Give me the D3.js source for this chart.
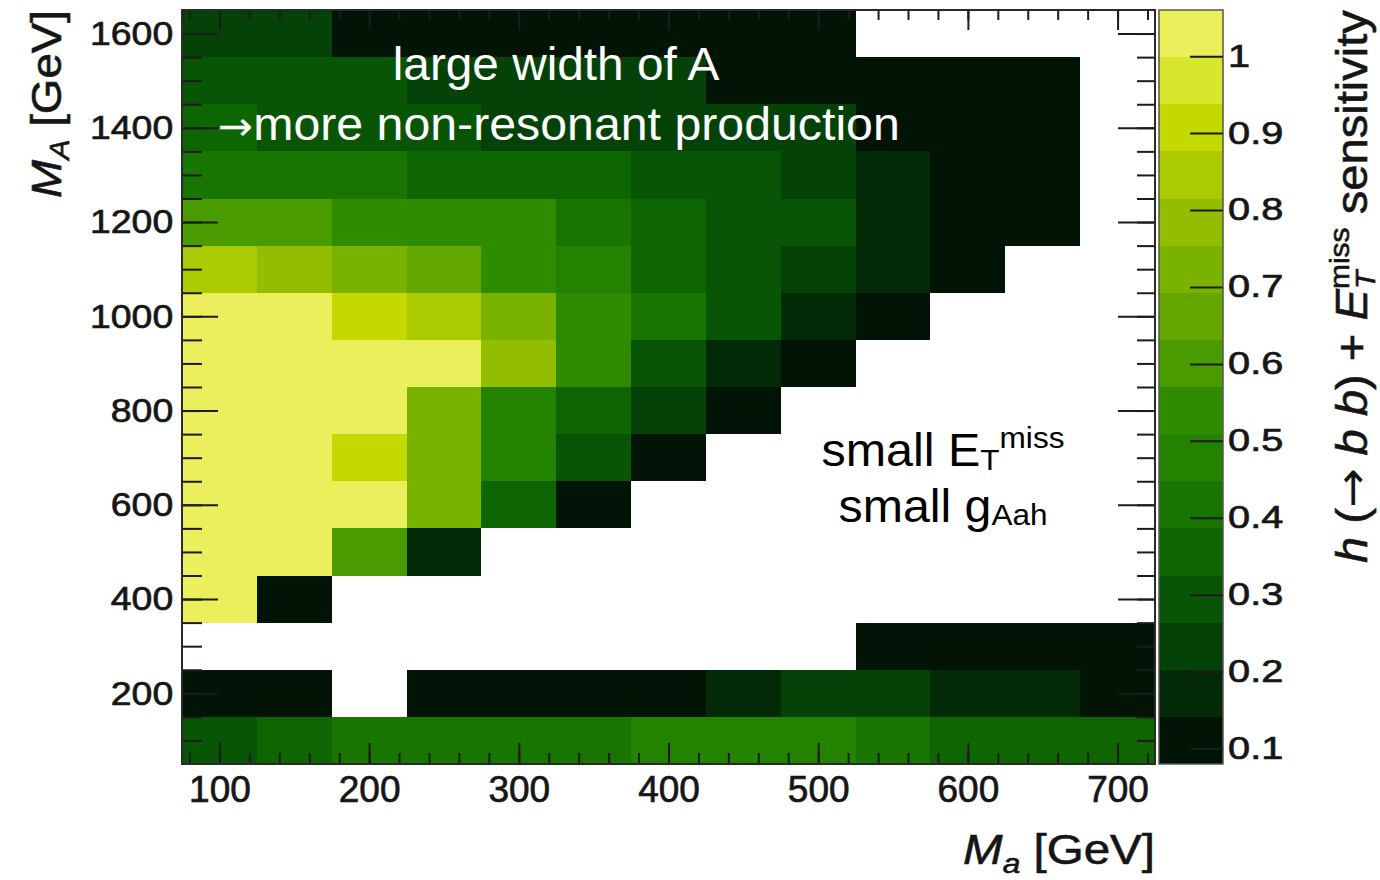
<!DOCTYPE html>
<html>
<head>
<meta charset="utf-8">
<script src="https://cdn.jsdelivr.net/npm/d3@7"></script>
<style>
  html, body { margin: 0; padding: 0; background: #fff; }
  svg { display: block; font-family: "Liberation Sans", Arial, Helvetica, sans-serif; }
</style>
</head>
<body>
<script>
// bin centres on the two mass axes
const maBins = [100, 150, 200, 250, 300, 350, 400, 450, 500, 550, 600, 650, 700];
const mABins = [1600, 1500, 1400, 1300, 1200, 1100, 1000, 900, 800, 700, 600, 500, 400, 300, 200, 100];

// sensitivity per row (same order as mABins), null = empty bin
const sensitivity = [
  [0.23, 0.23, 0.11, 0.10, 0.10, 0.10, 0.10, 0.09, 0.10, null, null, null, null],
  [0.29, 0.29, 0.28, 0.23, 0.23, 0.22, 0.22, 0.12, 0.11, 0.10, 0.10, 0.09, null],
  [0.35, 0.30, 0.29, 0.28, 0.24, 0.23, 0.22, 0.22, 0.21, 0.12, 0.11, 0.11, null],
  [0.42, 0.42, 0.41, 0.37, 0.36, 0.33, 0.30, 0.29, 0.23, 0.17, 0.12, 0.11, null],
  [0.61, 0.60, 0.55, 0.54, 0.52, 0.44, 0.36, 0.29, 0.28, 0.17, 0.11, 0.10, null],
  [0.85, 0.79, 0.73, 0.67, 0.55, 0.47, 0.36, 0.30, 0.25, 0.17, 0.12, null, null],
  [1.04, 1.03, 0.91, 0.85, 0.73, 0.55, 0.43, 0.30, 0.18, 0.11, null, null, null],
  [1.05, 1.04, 1.03, 1.01, 0.79, 0.55, 0.30, 0.17, 0.11, null, null, null, null],
  [1.05, 1.04, 1.02, 0.72, 0.49, 0.36, 0.24, 0.11, null, null, null, null, null],
  [1.05, 1.04, 0.91, 0.73, 0.49, 0.31, 0.11, null, null, null, null, null, null],
  [1.05, 1.05, 1.03, 0.72, 0.36, 0.10, null, null, null, null, null, null, null],
  [1.04, 1.03, 0.60, 0.17, null, null, null, null, null, null, null, null, null],
  [1.02, 0.11, null, null, null, null, null, null, null, null, null, null, null],
  [null, null, null, null, null, null, null, null, null, 0.11, 0.10, 0.10, 0.11],
  [0.11, 0.10, null, 0.10, 0.10, 0.11, 0.11, 0.17, 0.23, 0.24, 0.18, 0.17, 0.12],
  [0.29, 0.35, 0.40, 0.41, 0.40, 0.40, 0.48, 0.49, 0.48, 0.41, 0.36, 0.36, 0.35]
];

// 16 contour colours, low -> high
const palette = ['#011405', '#022a06', '#044207', '#075505', '#0d6602', '#177500', '#238300', '#2f8c00',
                 '#4a9b00', '#63a700', '#7ab200', '#93be00', '#abcb00', '#c3d900', '#d8e62e', '#ebef5b'];
const zRange = [0.08, 1.06];

const xTicks = [100, 200, 300, 400, 500, 600, 700];
const yTicks = [200, 400, 600, 800, 1000, 1200, 1400, 1600];
const zTicks = [0.1, 0.2, 0.3, 0.4, 0.5, 0.6, 0.7, 0.8, 0.9, 1];

(function() {
  'use strict';
  const w = 1380;
  const h = 880;

  const x = d3.scaleLinear().domain([75, 725]).range([182, 1155]);
  const y = d3.scaleLinear().domain([50, 1650]).range([764, 10]);
  const z = d3.scaleLinear().domain(zRange).range([764, 10]);
  const color = d3.scaleQuantize().domain(zRange).range(palette);

  const svg = d3.select('body').append('svg')
    .attr('width', w)
    .attr('height', h);

  // cells
  const cells = [];
  sensitivity.forEach((row, i) => {
    row.forEach((v, j) => {
      if (v !== null) cells.push({ma: maBins[j], mA: mABins[i], v: v});
    });
  });

  svg.append('g')
    .selectAll('rect')
    .data(cells)
    .join('rect')
    .attr('x', (d) => x(d.ma - 25))
    .attr('y', (d) => y(d.mA + 50))
    .attr('width', (d) => x(d.ma + 25) - x(d.ma - 25))
    .attr('height', (d) => y(d.mA - 50) - y(d.mA + 50))
    .attr('fill', (d) => color(d.v))
    .attr('shape-rendering', 'crispEdges');

  // axes (ticks point inwards, ROOT style)
  const tickCol = '#1c1c1c';
  function style(g) {
    g.select('.domain').remove();
    g.selectAll('.tick line').attr('stroke', tickCol).attr('stroke-width', 2);
    g.selectAll('.tick text').attr('fill', '#161616')
      .attr('stroke', '#161616').attr('stroke-width', 0.7);
  }
  const xMinor = d3.range(80, 725, 20);
  const yMinor = d3.range(100, 1650, 50);

  svg.append('g').attr('transform', 'translate(0,764)')
    .call(d3.axisBottom(x).tickValues(xMinor).tickSize(-11).tickFormat('')).call(style);
  svg.append('g').attr('transform', 'translate(0,764)')
    .call(d3.axisBottom(x).tickValues(xTicks).tickSize(-21).tickPadding(12).tickFormat(d3.format('d')))
    .call(style)
    .call((g) => g.selectAll('text').attr('font-size', 37));

  svg.append('g').attr('transform', 'translate(0,10)')
    .call(d3.axisTop(x).tickValues(xMinor).tickSize(-10).tickFormat('')).call(style);
  svg.append('g').attr('transform', 'translate(0,10)')
    .call(d3.axisTop(x).tickValues(xTicks).tickSize(-20).tickFormat('')).call(style);

  svg.append('g').attr('transform', 'translate(182,0)')
    .call(d3.axisLeft(y).tickValues(yMinor).tickSize(-20).tickFormat('')).call(style);
  svg.append('g').attr('transform', 'translate(182,0)')
    .call(d3.axisLeft(y).tickValues(yTicks).tickSize(-36).tickPadding(8).tickFormat(d3.format('d')))
    .call(style)
    .call((g) => g.selectAll('text').attr('font-size', 34).attr('transform', 'scale(1.1,1)'));

  svg.append('g').attr('transform', 'translate(1155,0)')
    .call(d3.axisRight(y).tickValues(yMinor).tickSize(-18).tickFormat('')).call(style);
  svg.append('g').attr('transform', 'translate(1155,0)')
    .call(d3.axisRight(y).tickValues(yTicks).tickSize(-37).tickFormat('')).call(style);

  // frame
  svg.append('rect')
    .attr('x', 182).attr('y', 10)
    .attr('width', x.range()[1] - x.range()[0])
    .attr('height', y.range()[0] - y.range()[1])
    .attr('fill', 'none').attr('stroke', '#2a2a2a').attr('stroke-width', 2);

  // colour bar
  const bounds = [zRange[0]].concat(color.thresholds(), [zRange[1]]);
  const cb = svg.append('g');
  cb.selectAll('rect')
    .data(palette)
    .join('rect')
    .attr('x', 1159)
    .attr('width', 64)
    .attr('y', (d, i) => z(bounds[i + 1]))
    .attr('height', (d, i) => z(bounds[i]) - z(bounds[i + 1]))
    .attr('fill', (d) => d)
    .attr('shape-rendering', 'crispEdges');
  cb.append('rect')
    .attr('x', 1159).attr('y', 10).attr('width', 64).attr('height', 754)
    .attr('fill', 'none').attr('stroke', '#555').attr('stroke-width', 1.5);
  svg.append('g').attr('transform', 'translate(1223,0)')
    .call(d3.axisRight(z).tickValues(zTicks).tickSize(-33).tickPadding(4)
      .tickFormat((d) => d === 1 ? '1' : d.toFixed(1)))
    .call(style)
    .call((g) => g.selectAll('text').attr('font-size', 31).attr('transform', 'scale(1.28,1)'));

  // text helpers: build inside a positioned group, then stretch along the text to a target length
  function label(tx, ty, rot, anchor, size, fill) {
    const g = svg.append('g').attr('transform', 'translate(' + tx + ',' + ty + ')' + (rot ? ' rotate(' + rot + ')' : ''));
    const t = g.append('text').attr('text-anchor', anchor).attr('font-size', size).attr('fill', fill);
    return {g: g, t: t};
  }
  function fit(l, target) {
    const bw = l.t.node().getBBox().width;
    l.g.attr('transform', l.g.attr('transform') + ' scale(' + (target / bw) + ',1)');
  }
  const arrowFont = '"DejaVu Sans", "Liberation Sans", sans-serif';

  // y title
  const yt = label(61, 10, -90, 'end', 42, '#151515');
  yt.t.attr('stroke', '#151515').attr('stroke-width', 0.6);
  yt.t.append('tspan').attr('font-style', 'italic').text('M');
  yt.t.append('tspan').attr('font-style', 'italic').attr('font-size', 28).attr('dy', 8).text('A');
  yt.t.append('tspan').attr('dy', -8).text(' [GeV]');
  fit(yt, 188);

  // x title
  const xt = label(1155, 864, 0, 'end', 42, '#151515');
  xt.t.attr('stroke', '#151515').attr('stroke-width', 0.6);
  xt.t.append('tspan').attr('font-style', 'italic').text('M');
  xt.t.append('tspan').attr('font-style', 'italic').attr('font-size', 28).attr('dy', 9).text('a');
  xt.t.append('tspan').attr('dy', -9).text(' [GeV]');
  fit(xt, 192);

  // colour bar title
  const zt = label(1367, 563, -90, 'start', 44, '#151515');
  zt.t.attr('stroke', '#151515').attr('stroke-width', 0.6);
  zt.t.append('tspan').attr('font-style', 'italic').text('h');
  zt.t.append('tspan').text(' (');
  zt.t.append('tspan').attr('font-family', arrowFont).attr('stroke-width', 0).text('\u2192');
  zt.t.append('tspan').text(' ');
  zt.t.append('tspan').attr('font-style', 'italic').text('b');
  zt.t.append('tspan').text(' ');
  zt.t.append('tspan').attr('font-style', 'italic').text('b');
  zt.t.append('tspan').text(') + ');
  zt.t.append('tspan').attr('font-style', 'italic').text('E');
  zt.t.append('tspan').attr('font-style', 'italic').attr('font-size', 28).attr('dy', 8).text('T');
  zt.t.append('tspan').attr('font-size', 28).attr('dx', -17).attr('dy', -26).text('miss');
  zt.t.append('tspan').attr('dy', 18).text(' sensitivity');
  fit(zt, 553);

  // annotations
  const a1 = label(556, 80, 0, 'middle', 46, '#fff');
  a1.t.text('large width of A');
  fit(a1, 327);

  const a2 = label(218, 140, 0, 'start', 46, '#fff');
  a2.t.append('tspan').attr('font-family', arrowFont).attr('font-size', 40).text('\u2192');
  a2.t.append('tspan').text('more non-resonant production');
  fit(a2, 682);

  const a3 = label(943, 466, 0, 'middle', 46, '#000');
  a3.t.append('tspan').text('small E');
  a3.t.append('tspan').attr('font-size', 30).attr('dy', 4).text('T');
  a3.t.append('tspan').attr('font-size', 30).attr('dy', -22).text('miss');
  fit(a3, 243);

  const a4 = label(943, 522, 0, 'middle', 46, '#000');
  a4.t.append('tspan').text('small g');
  a4.t.append('tspan').attr('font-size', 30).attr('dy', 3).text('Aah');
  fit(a4, 209);
}());
</script>
</body>
</html>
